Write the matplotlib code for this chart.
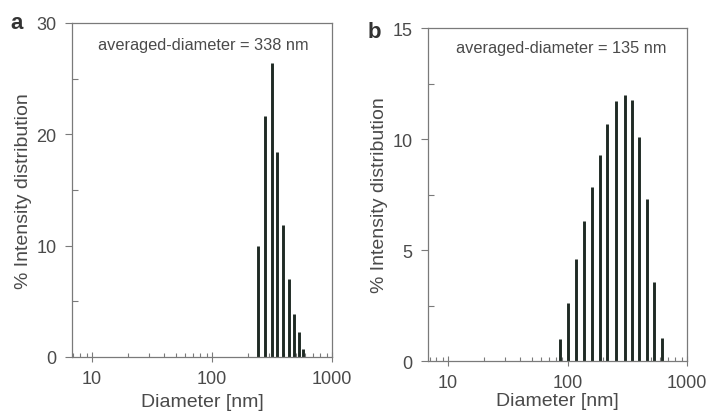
import numpy as np
import matplotlib
matplotlib.use('Agg')
from matplotlib import pyplot as plt
from matplotlib.ticker import LogLocator, NullFormatter, FixedLocator

plt.rcParams['font.family'] = ['Liberation Sans', 'DejaVu Sans']

# painel a
diam_a = [243, 277, 314, 346, 388, 436, 485, 528, 576]
int_a = [10.0, 21.6, 26.4, 18.4, 11.85, 7.0, 3.9, 2.2, 0.75]

# painel b
diam_b = [86, 100, 117, 137, 160, 186, 216, 255, 300, 346, 398, 459, 530, 614]
int_b = [0.98, 2.6, 4.6, 6.3, 7.85, 9.28, 10.68, 11.73, 11.98, 11.76, 10.08, 7.29, 3.56, 1.05]

textos = ['averaged-diameter = 338 nm', 'averaged-diameter = 135 nm']
letras = ['a', 'b']
ylims = [30, 15]
yticks_maj = [[0, 10, 20, 30], [0, 5, 10, 15]]
yticks_min = [[5, 15, 25], [2.5, 7.5, 12.5]]

cor_txt = '#4a4a4a'
cor_eixo = '#7a7a7a'
cor_barra = '#1f2a24'

fig = plt.figure(figsize=(7.07, 4.14), dpi=100)
ax_a = fig.add_axes([0.1018, 0.1353, 0.3678, 0.8068])
ax_b = fig.add_axes([0.6054, 0.1256, 0.3663, 0.8043])

dados = [(diam_a, int_a), (diam_b, int_b)]
txt_pos = [(0.504, 0.937), (0.516, 0.942)]
letra_pos = [(-0.235, 1.0), (-0.235, 0.99)]
xlabelpad = [4, 0.5]

for i, ax in enumerate([ax_a, ax_b]):
    d, v = dados[i]
    ax.vlines(d, 0, v, colors=cor_barra, linewidth=2.1)
    ax.set_xscale('log')
    ax.set_xlim(6.8, 1000)
    ax.set_ylim(0, ylims[i])
    ax.set_yticks(yticks_maj[i])
    ax.yaxis.set_minor_locator(FixedLocator(yticks_min[i]))
    ax.set_xticks([10, 100, 1000])
    ax.set_xticklabels(['10', '100', '1000'])
    ax.xaxis.set_minor_locator(LogLocator(base=10, subs=np.arange(2, 10)))
    ax.xaxis.set_minor_formatter(NullFormatter())
    ax.tick_params(axis='y', which='major', direction='out', length=5, width=0.8,
                   colors=cor_eixo, labelcolor=cor_txt, labelsize=13, pad=6)
    ax.tick_params(axis='y', which='minor', direction='in', length=4, width=0.8,
                   colors=cor_eixo)
    ax.tick_params(axis='x', which='major', direction='inout', length=7, width=0.8,
                   colors=cor_eixo, labelcolor=cor_txt, labelsize=13, pad=6)
    ax.tick_params(axis='x', which='minor', direction='in', length=3, width=0.8,
                   colors=cor_eixo)
    for s in ax.spines.values():
        s.set_color(cor_eixo)
        s.set_linewidth(0.9)
    ax.set_xlabel('Diameter [nm]', fontsize=14, color=cor_txt, labelpad=xlabelpad[i])
    ax.set_ylabel('% Intensity distribution', fontsize=14, color=cor_txt, labelpad=3)
    ax.text(txt_pos[i][0], txt_pos[i][1], textos[i], transform=ax.transAxes,
            ha='center', va='center', fontsize=11.8, color=cor_txt)
    ax.text(letra_pos[i][0], letra_pos[i][1], letras[i], transform=ax.transAxes,
            ha='left', va='center', fontsize=16, fontweight='bold', color='#333333')

fig.savefig('out.png', dpi=100)
